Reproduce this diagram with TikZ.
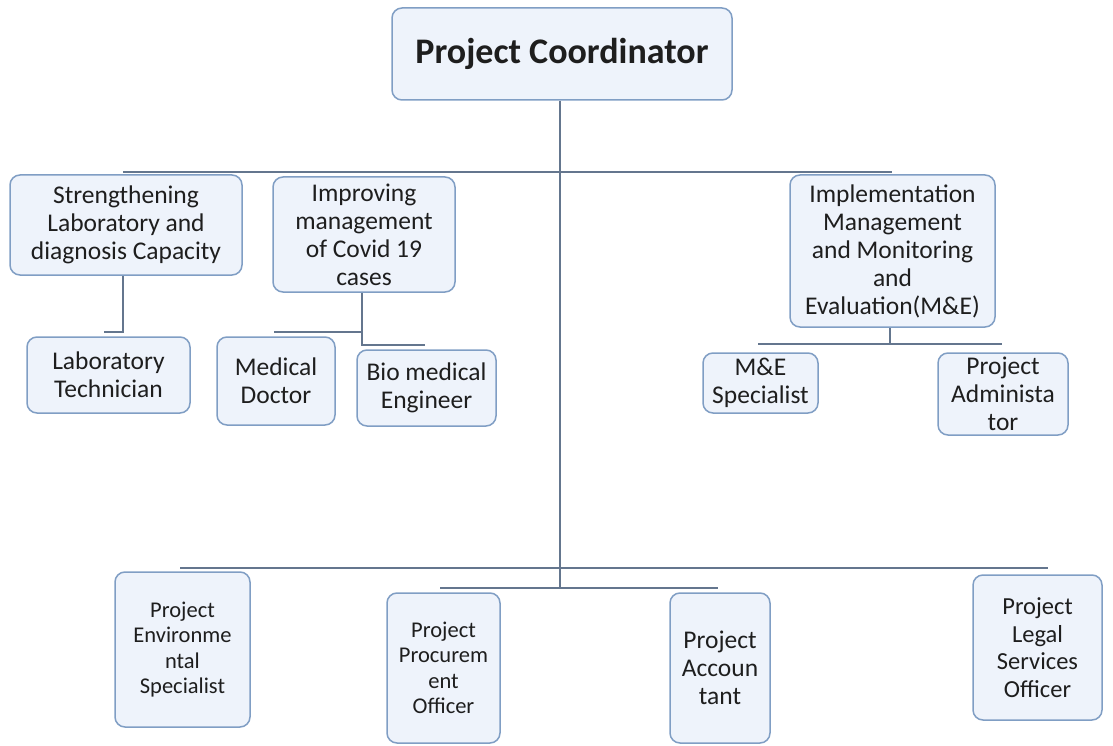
\documentclass[tikz,border=0pt]{standalone}
\usepackage{fontspec}
\setmainfont{Carlito}
\definecolor{boxfill}{RGB}{238,243,251}
\definecolor{boxline}{RGB}{128,158,196}
\definecolor{conn}{RGB}{100,118,142}
\definecolor{txt}{RGB}{30,30,30}
\begin{document}
\begin{tikzpicture}[x=1pt,y=-1pt,
  orgbox/.style={draw=boxline,fill=boxfill,line width=1.5pt,rounded corners=10pt,
    inner sep=0pt,align=center,text=txt,font=\fontsize{25.5}{28}\selectfont},
  smallbox/.style={orgbox,font=\fontsize{22.5}{25.5}\selectfont},
  conline/.style={draw=conn,line width=1.8pt}]
\useasboundingbox (0,0) rectangle (1113,746);
% top
\node[orgbox,minimum width=340pt,minimum height=92pt,font=\fontsize{36}{40}\selectfont\bfseries] (pc) at (562,54) {Project Coordinator};
% level 2
\node[orgbox,minimum width=232pt,minimum height=100pt] (s1) at (126,225) {Strengthening\\Laboratory and\\diagnosis Capacity};
\node[orgbox,minimum width=182pt,minimum height=115pt] (s2) at (364,234.5) {Improving\\management\\of Covid 19\\cases};
\node[orgbox,minimum width=205pt,minimum height=152pt] (s3) at (892.5,251) {Implementation\\Management\\and Monitoring\\and\\Evaluation(M\&E)};
% level 3
\node[orgbox,minimum width=163pt,minimum height=76pt] (lt) at (108.5,375) {Laboratory\\Technician};
\node[orgbox,minimum width=118pt,minimum height=88pt] (md) at (276,381) {Medical\\Doctor};
\node[orgbox,minimum width=139pt,minimum height=76pt] (bme) at (426.5,388) {Bio medical\\Engineer};
\node[orgbox,minimum width=115pt,minimum height=60pt] (mes) at (760.5,383) {M\&E\\Specialist};
\node[orgbox,minimum width=130pt,minimum height=82pt] (pa) at (1003,394) {Project\\Administa\\tor};
% bottom row
\node[smallbox,minimum width=135pt,minimum height=155pt] (env) at (182.5,649.5) {Project\\Environme\\ntal\\Specialist};
\node[smallbox,minimum width=113pt,minimum height=150pt] (proc) at (443.5,668) {Project\\Procurem\\ent\\Officer};
\node[orgbox,minimum width=100pt,minimum height=150pt] (acc) at (720,668) {Project\\Accoun\\tant};
\node[orgbox,minimum width=129pt,minimum height=145pt,font=\fontsize{24.5}{27.5}\selectfont] (legal) at (1037.5,647.5) {Project\\Legal\\Services\\Officer};
% connector coordinates
\coordinate (tr) at (560,588);
\coordinate (t1) at (123,172);
\coordinate (t2) at (892,172);
\coordinate (s1a) at (123,332);
\coordinate (s1b) at (104,332);
\coordinate (s2a) at (362,332);
\coordinate (s2b) at (274,332);
\coordinate (s2c) at (362,345);
\coordinate (s2d) at (425,345);
\coordinate (s3a) at (890,344);
\coordinate (s3l) at (758,344);
\coordinate (s3r) at (1002,344);
\coordinate (b1l) at (180,568);
\coordinate (b1r) at (1048,568);
\coordinate (b2l) at (440,588);
\coordinate (b2r) at (718,588);
% connectors
\draw[conline] (pc.south -| tr) -- (tr);
\draw[conline] (t1) -- (t2);
\draw[conline] (s1.south -| s1a) -- (s1a) -- (s1b);
\draw[conline] (s2.south -| s2a) -- (s2c) -- (s2d);
\draw[conline] (s2b) -- (s2a);
\draw[conline] (s3.south -| s3a) -- (s3a);
\draw[conline] (s3l) -- (s3r);
\draw[conline] (b1l) -- (b1r);
\draw[conline] (b2l) -- (b2r);
\end{tikzpicture}
\end{document}
